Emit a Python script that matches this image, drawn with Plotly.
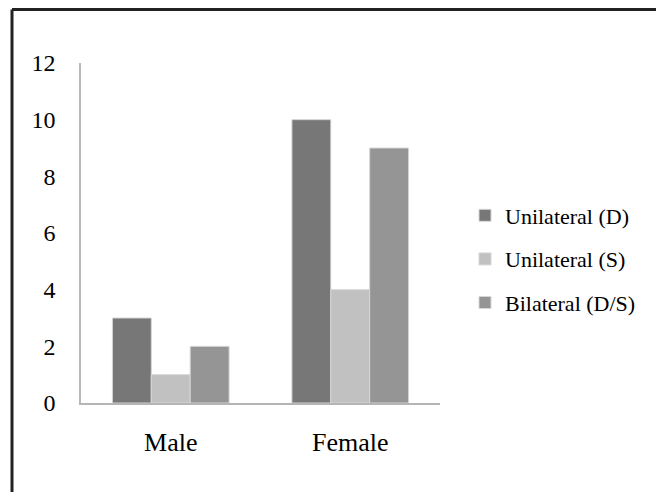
import plotly.graph_objects as go

categories = ["Male", "Female"]
series_names = ["Unilateral (D)", "Unilateral (S)", "Bilateral (D/S)"]
unilateral_d = [3, 10]
unilateral_s = [1, 4]
bilateral_ds = [2, 9]
y_ticks = [0, 2, 4, 6, 8, 10, 12]

colors = ["#777777", "#c1c1c1", "#959595"]
values = [unilateral_d, unilateral_s, bilateral_ds]

# the page body adds an 8px offset; layout positions below are in figure pixels
W, H = 664, 492
ML, MR, MT, MB = 73, 232, 55, 97
PW, PH = W - ML - MR, H - MT - MB

fig = go.Figure()
for i, (name, vals, col) in enumerate(zip(series_names, values, colors)):
    fig.add_trace(go.Bar(
        x=categories, y=vals, name=name,
        marker=dict(color=col, line=dict(color="#d6d6d6", width=1)),
        legendgroup=f"g{i}",
    ))

# outer frame (left and top edges of the picture's border)
fx = (4 - ML) / PW
fy = (H - 1.5 - MB) / PH
fig.add_shape(type="line", xref="paper", yref="paper", x0=fx, x1=fx, y0=fy, y1=-1,
              line=dict(color="#222222", width=3))
fig.add_shape(type="line", xref="paper", yref="paper", x0=fx, x1=2, y0=fy, y1=fy,
              line=dict(color="#222222", width=3))

font = "Liberation Serif, Times New Roman, serif"
fig.update_layout(
    width=W, height=H,
    margin=dict(l=ML, r=MR, t=MT, b=MB, pad=0),
    paper_bgcolor="white", plot_bgcolor="white",
    barmode="group", bargap=0.35, bargroupgap=0,
    font=dict(family=font, color="#000000"),
    showlegend=True,
    legend=dict(
        x=(457 - ML) / PW, xanchor="left",
        y=(H - 251 - MB) / PH, yanchor="middle",
        font=dict(family=font, size=22, color="#000000"),
        tracegroupgap=12, traceorder="grouped",
        bgcolor="rgba(0,0,0,0)",
    ),
    xaxis=dict(
        showline=True, linecolor="#b5b5b5", linewidth=2,
        showgrid=False, ticks="", tickfont=dict(size=26),
        ticklabelstandoff=15,
    ),
    yaxis=dict(
        range=[0, 12], tickvals=y_ticks, showline=True, linecolor="#b8b8b8",
        linewidth=1.5, showgrid=False, zeroline=False, ticks="",
        tickfont=dict(size=24), ticklabelstandoff=19,
    ),
)

fig.write_html("out.html")
